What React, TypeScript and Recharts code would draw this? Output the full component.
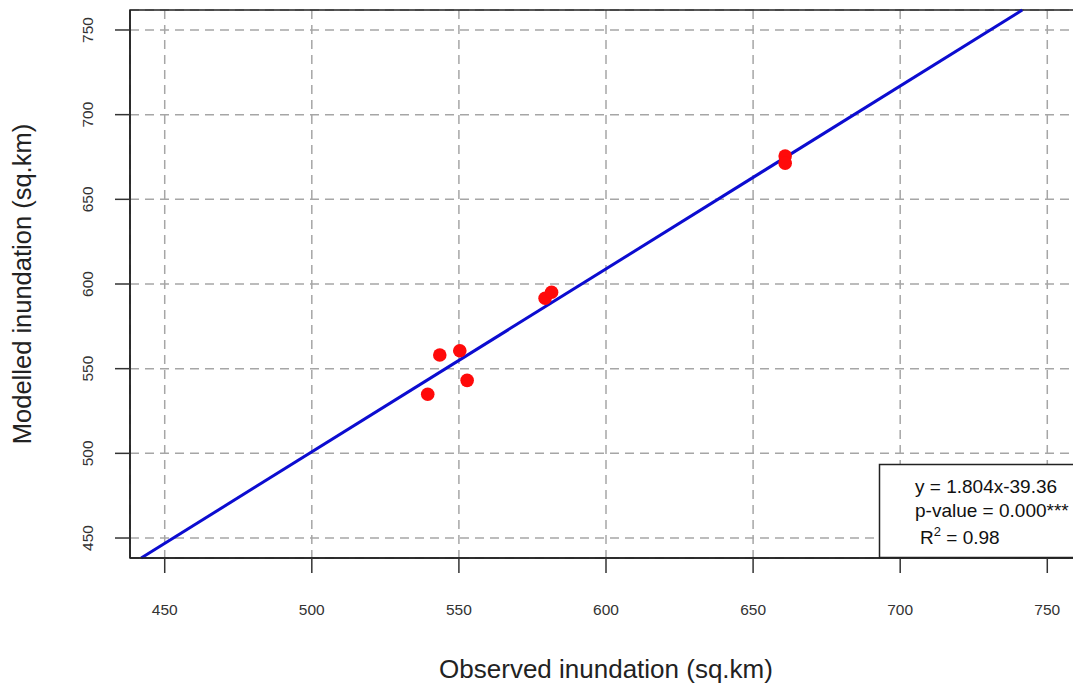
import React from 'react';
import { ScatterChart, Scatter, XAxis, YAxis, CartesianGrid, ReferenceLine, ReferenceArea } from 'recharts';

const FONT = '"Liberation Sans", Arial, Helvetica, sans-serif';

// Axis ticks
const xTicks = [450, 500, 550, 600, 650, 700, 750];
const yTicks = [450, 500, 550, 600, 650, 700, 750];
const axisMin = 438.2;
const axisMax = 761.8;

// Observations (sq.km)
const observed = [539.4, 543.5, 550.3, 552.8, 579.3, 581.5, 660.9, 660.9];
const modelled = [534.9, 558.1, 560.6, 543.1, 591.6, 595.1, 675.6, 671.3];

const fitX = [442.0, 741.5];
const fitY = [438.2, 761.8];

// Annotation text
const eqText = 'y = 1.804x-39.36';
const pText = 'p-value = 0.000***';
const r2Text = '0.98';

const points = observed.map((x, i) => ({ x, y: modelled[i] }));

const XTick = (props: any) => {
  const { x, payload } = props;
  return (
    <text x={x} y={615} textAnchor="middle" fontSize={15.5} fill="#333" fontFamily={FONT}>
      {payload.value}
    </text>
  );
};

const YTick = (props: any) => {
  const { y, payload } = props;
  const bx = 93;
  return (
    <text x={bx} y={y} transform={`rotate(-90, ${bx}, ${y})`} textAnchor="middle" fontSize={15.5} fill="#333" fontFamily={FONT}>
      {payload.value}
    </text>
  );
};

const Dot = (props: any) => {
  const { cx, cy } = props;
  return <circle cx={cx} cy={cy} r={6.8} fill="#ff0a0a" />;
};

export default function App() {
  return (
    <div style={{ position: 'absolute', left: 0, top: 0, width: 1073, height: 684, overflow: 'hidden', background: '#fff' }}>
      <ScatterChart width={1100} height={684} margin={{ top: 10, right: 18, bottom: 0, left: 0 }}>
        <CartesianGrid stroke="#a6a6a6" strokeDasharray="9 6" strokeWidth={1.5} />
        <XAxis
          type="number"
          dataKey="x"
          domain={[axisMin, axisMax]}
          ticks={xTicks}
          allowDataOverflow
          interval={0}
          height={126}
          tickSize={15}
          axisLine={{ stroke: '#222', strokeWidth: 1.5 }}
          tickLine={{ stroke: '#333', strokeWidth: 1.5 }}
          tick={<XTick />}
        />
        <YAxis
          type="number"
          dataKey="y"
          domain={[axisMin, axisMax]}
          ticks={yTicks}
          allowDataOverflow
          interval={0}
          width={130}
          tickSize={15}
          axisLine={{ stroke: '#222', strokeWidth: 1.5 }}
          tickLine={{ stroke: '#333', strokeWidth: 1.5 }}
          tick={<YTick />}
        />
        <ReferenceArea x1={axisMin} x2={axisMax} y1={axisMin} y2={axisMax} fill="none" fillOpacity={0} stroke="#222" strokeWidth={1.5} ifOverflow="visible" />
        <ReferenceLine
          segment={[{ x: fitX[0], y: fitY[0] }, { x: fitX[1], y: fitY[1] }]}
          stroke="#0c0cd0"
          strokeWidth={3}
          ifOverflow="visible"
        />
        <Scatter data={points} shape={<Dot />} isAnimationActive={false} />
      </ScatterChart>
      <svg width={1073} height={684} style={{ position: 'absolute', left: 0, top: 0, pointerEvents: 'none' }}>
        <text x={606} y={678} textAnchor="middle" fontSize={26} fill="#222" fontFamily={FONT}>
          Observed inundation (sq.km)
        </text>
        <text x={31} y={284} transform="rotate(-90, 31, 284)" textAnchor="middle" fontSize={25.5} fill="#222" fontFamily={FONT}>
          Modelled inundation (sq.km)
        </text>
        <rect x={879.5} y={464.5} width={220} height={93} fill="#fff" stroke="#222" strokeWidth={1.5} />
        <text x={915} y={493} fontSize={19} fill="#111" fontFamily={FONT}>{eqText}</text>
        <text x={915} y={517} fontSize={19} fill="#111" fontFamily={FONT}>{pText}</text>
        <text x={920} y={544} fontSize={19} fill="#111" fontFamily={FONT}>
          R<tspan fontSize={13} dy={-8}>2</tspan><tspan dy={8}> = {r2Text}</tspan>
        </text>
      </svg>
    </div>
  );
}
